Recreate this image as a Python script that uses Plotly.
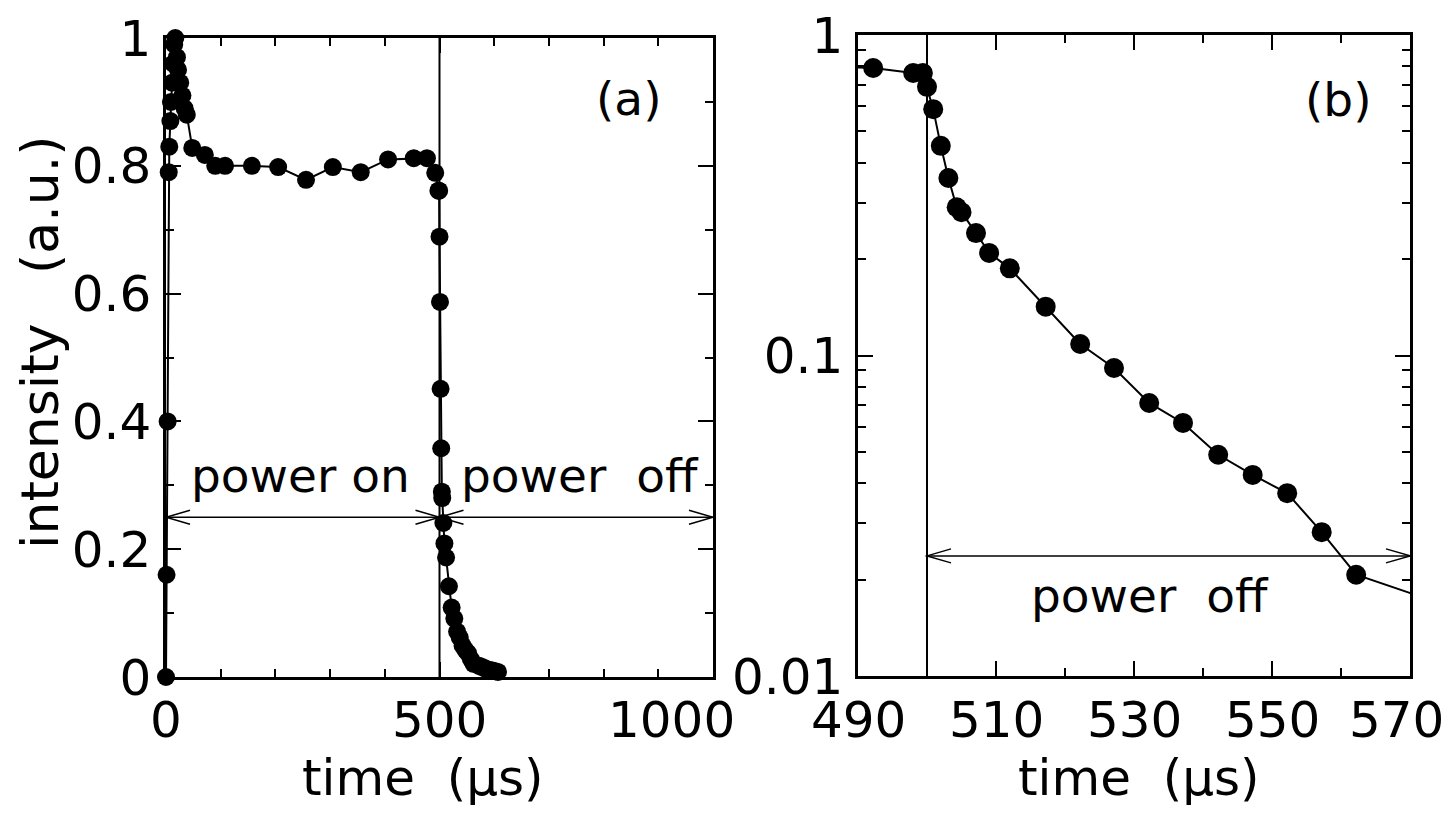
import plotly.graph_objects as go

# ---------------- data ----------------
time_us = [0, 1, 3, 5, 6, 8, 9, 11, 13, 15, 17, 20, 22, 26, 30, 34, 38, 48, 71, 90,
           108, 157, 205, 256, 305, 356, 406, 453, 477, 492.2, 498.0, 499.4, 500.0,
           500.9, 502.0, 503.1, 504.3, 505.0, 507.1, 509.0, 512.0, 517.2, 522.2,
           527.1, 532.2, 537.1, 542.2, 547.2, 552.2, 557.2, 562.2, 572.2, 577, 582,
           587, 592, 597, 602, 607]
intensity = [0.0, 0.16, 0.40, 0.79, 0.83, 0.87, 0.90, 0.93, 0.96, 0.99, 1.0, 0.97,
             0.95, 0.93, 0.91, 0.89, 0.88, 0.828, 0.817, 0.80, 0.80, 0.80, 0.798,
             0.778, 0.798, 0.79, 0.810, 0.812, 0.812, 0.789, 0.761, 0.761, 0.689,
             0.587, 0.451, 0.358, 0.29, 0.28, 0.241, 0.209, 0.187, 0.142, 0.1086,
             0.0914, 0.0711, 0.0616, 0.049, 0.0424, 0.0372, 0.0281, 0.0207, 0.0175,
             0.016, 0.014, 0.012, 0.011, 0.010, 0.009, 0.008]

NB = "\u00a0"
xa_ticks = [0, 500, 1000]
xa_labels = ["0", "500", "1000"]
ya_ticks = [0, 0.2, 0.4, 0.6, 0.8, 1]
xb_ticks = [490, 510, 530, 550, 570]
xb_labels = ["490", "510", "530", "550", "570"]
xb_minor = [500, 520, 540, 560]
yb_ticks = [0.01, 0.1, 1]
yb_labels = ["0.01", "0.1", "1"]
yb_minor = [k * 10.0 ** e for e in (-2, -1) for k in range(2, 10)]

power_switch_us = 500
arrow_a_level = 0.25
arrow_b_level = 0.0237

x_title = "time" + NB * 2 + "(μs)"
y_title = "intensity" + NB * 3 + "(a.u.)"

# ---------------- styling ----------------
FAMILY = "DejaVu Sans, Liberation Sans, Arial, sans-serif"
FONT = dict(family=FAMILY, size=50, color="black")
TEXT_FONT = dict(family=FAMILY, size=47, color="black")
YTITLE_FONT = dict(family=FAMILY, size=52, color="black")

def axis_style(**kw):
    d = dict(showline=True, linecolor="black", linewidth=2.5, mirror="ticks",
             ticks="inside", ticklen=15, tickwidth=2, tickcolor="black",
             showgrid=False, zeroline=False, tickfont=FONT,
             automargin=False, ticklabeloverflow="allow")
    d.update(kw)
    return d

def minor_style(**kw):
    d = dict(ticks="inside", ticklen=8, tickwidth=2, tickcolor="black", showgrid=False)
    d.update(kw)
    return d

fig = go.Figure()
for xa, ya, clip, msize in (("x", "y", False, 18), ("x2", "y2", True, 20)):
    fig.add_trace(go.Scatter(
        x=time_us, y=intensity, mode="lines+markers", xaxis=xa, yaxis=ya,
        line=dict(color="black", width=2), marker=dict(color="black", size=msize),
        cliponaxis=clip, showlegend=False))

W, H = 1449, 813
XLAB_Y = 720     # pixel row of the x tick labels' centres
XTITLE_Y = 778   # pixel row of the x titles' centres
fig.update_layout(
    width=W, height=H, margin=dict(l=0, r=0, t=0, b=0),
    paper_bgcolor="white", plot_bgcolor="white", font=FONT,
    xaxis=axis_style(domain=[166 / W, 713 / W], range=[0, 1000], anchor="y",
                     tickvals=xa_ticks, showticklabels=False,
                     minor=minor_style(dtick=100, tick0=0)),
    yaxis=axis_style(domain=[(H - 677) / H, (H - 38) / H], range=[0, 1], anchor="x",
                     tickvals=ya_ticks, ticklabelstandoff=2,
                     minor=minor_style(dtick=0.1, tick0=0)),
    xaxis2=axis_style(domain=[858 / W, 1410 / W], range=[490, 570], anchor="y2",
                      tickvals=xb_ticks, showticklabels=False,
                      minor=minor_style(tickvals=xb_minor)),
    yaxis2=axis_style(domain=[(H - 676) / H, (H - 35) / H], type="log", range=[-2, 0],
                      anchor="x2", tickvals=yb_ticks, ticktext=yb_labels,
                      ticklabelstandoff=2,
                      minor=minor_style(tickvals=yb_minor)),
)

shapes = []
# vertical line at power switch-off
for xr, yr in (("x", "y domain"), ("x2", "y2 domain")):
    shapes.append(dict(type="line", xref=xr, yref=yr, x0=power_switch_us, x1=power_switch_us,
                       y0=0, y1=1, line=dict(color="black", width=2)))

def arrow(xr, yr, x_from, x_to, level):
    out = [dict(type="line", xref=xr, yref=yr, x0=x_from, x1=x_to, y0=level, y1=level,
                line=dict(color="black", width=1.5))]
    for xa, sgn in ((x_from, 1), (x_to, -1)):
        out.append(dict(type="path", xref=xr, yref=yr, xsizemode="pixel", ysizemode="pixel",
                        xanchor=xa, yanchor=level,
                        path=f"M {sgn*24} 7 L 0 0 L {sgn*24} -7",
                        line=dict(color="black", width=1.5)))
    return out

shapes += arrow("x", "y", 0, power_switch_us, arrow_a_level)
shapes += arrow("x", "y", power_switch_us, 1000, arrow_a_level)
shapes += arrow("x2", "y2", power_switch_us, 570, arrow_b_level)
fig.update_layout(shapes=shapes)

ann = [
    dict(text="(a)", xref="x domain", yref="y domain", x=0.845, y=0.905, font=TEXT_FONT),
    dict(text="power on", xref="x domain", yref="y domain", x=0.245, y=0.315, font=TEXT_FONT),
    dict(text="power" + NB * 2 + "off", xref="x domain", yref="y domain", x=0.757, y=0.315,
         font=TEXT_FONT),
    dict(text="(b)", xref="x2 domain", yref="y2 domain", x=0.87, y=0.9, font=TEXT_FONT),
    dict(text="power" + NB * 2 + "off", xref="x2 domain", yref="y2 domain", x=0.529, y=0.125,
         font=TEXT_FONT),
    # axis titles
    dict(text=x_title, xref="paper", yref="paper", x=423 / W, y=(H - XTITLE_Y) / H, font=FONT),
    dict(text=x_title, xref="paper", yref="paper", x=1139 / W, y=(H - XTITLE_Y) / H, font=FONT),
    dict(text=y_title, xref="paper", yref="paper", x=40 / W, y=(H - 342) / H,
         textangle=-90, font=YTITLE_FONT),
]
# x tick labels, placed on the axes' own scales (end labels sit left of their ticks)
end_shift = {"1000": -42, "570": -14}
for xr, vals, labels in (("x", xa_ticks, xa_labels), ("x2", xb_ticks, xb_labels)):
    for v, lab in zip(vals, labels):
        ann.append(dict(text=lab, xref=xr, yref="paper", x=v, y=(H - XLAB_Y) / H,
                        xshift=end_shift.get(lab, 0), font=FONT))
for a in ann:
    a.update(showarrow=False, xanchor="center", yanchor="middle")
fig.update_layout(annotations=ann)

fig.write_html("out.html",
               config={"displayModeBar": False},
               post_script="document.body.style.margin='0';"
                           "document.body.style.overflow='hidden';")
